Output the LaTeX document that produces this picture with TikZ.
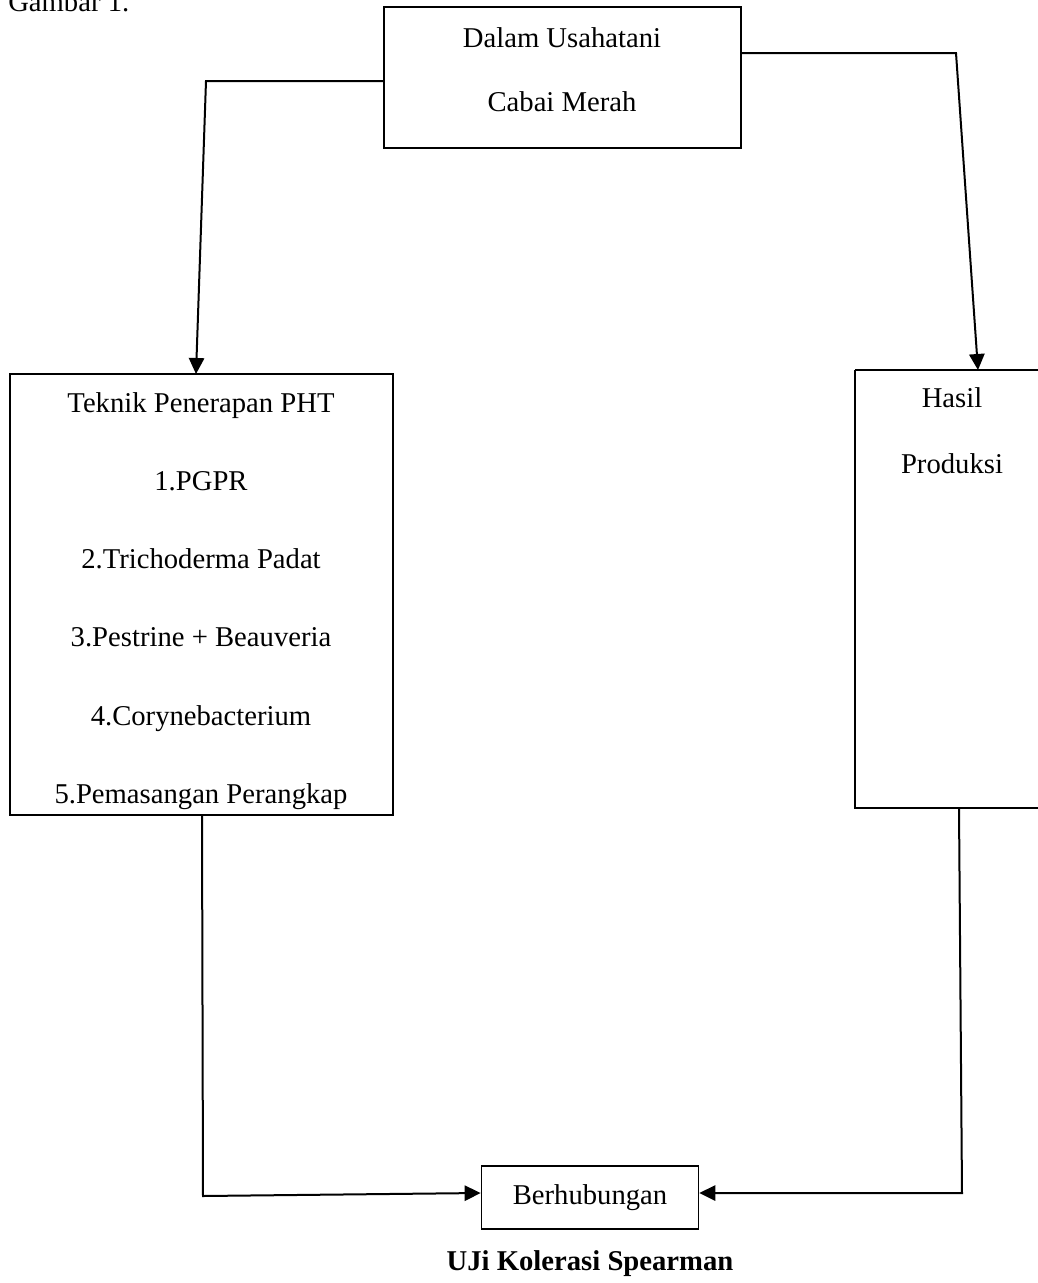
\documentclass[tikz,border=0pt]{standalone}
\usepackage{fontspec}
\setmainfont{Liberation Serif}
\usetikzlibrary{arrows.meta}
\begin{document}
\begin{tikzpicture}[x=0.75pt,y=-0.75pt,
  txt/.style={font=\fontsize{21.5}{25}\selectfont, inner sep=0pt, anchor=base},
  boxline/.style={draw=black, line width=1.5pt},
  conn/.style={draw=black, line width=1.5pt},
  arr/.style={conn, -{Triangle[length=12pt,width=11.5pt]}}]
\useasboundingbox (0,0) rectangle (1038,1283);
% boxes
\draw[boxline] (384,7) rectangle (741,148);
\node[txt] (t1) at (562,47) {Dalam Usahatani};
\node[txt] (t2) at (562,111) {Cabai Merah};
\coordinate (topL) at (384,81);
\coordinate (topR) at (741,53);

\draw[boxline] (10,374) rectangle (393,815);
\node[txt] (l1) at (201,412) {Teknik Penerapan PHT};
\node[txt] (l2) at (201,490) {1.PGPR};
\node[txt] (l3) at (201,568.5) {2.Trichoderma Padat};
\node[txt] (l4) at (201,646.5) {3.Pestrine + Beauveria};
\node[txt] (l5) at (201,725) {4.Corynebacterium};
\node[txt] (l6) at (201,803) {5.Pemasangan Perangkap};

\draw[boxline] (855,370) -- (1045,370) (855,370) -- (855,808) -- (1045,808);
\node[txt] (r1) at (952,407) {Hasil};
\node[txt] (r2) at (952,473) {Produksi};

\node[draw=black, line width=1.3pt, minimum width=217*0.75pt, minimum height=63*0.75pt, inner sep=0pt, font=\fontsize{21.5}{25}\selectfont] (ber) at (590,1197.5) {Berhubungan};

\node[txt, anchor=base west] (gam) at (8,11) {Gambar 1.};
\node[txt, font=\fontsize{21.5}{25}\selectfont\bfseries] (uji) at (590,1270) {UJi Kolerasi Spearman};

% connectors
\coordinate (a1) at (206,81);
\coordinate (a2) at (196,374);
\draw[arr] (topL) -- (a1) -- (a2);
\coordinate (b1) at (956,53);
\coordinate (b2) at (978,370);
\draw[arr] (topR) -- (b1) -- (b2);
\coordinate (c0) at (202,815);
\coordinate (c1) at (203,1196);
\draw[arr] (c0) -- (c1) -- (ber.west |- 0,1193);
\coordinate (d0) at (959,808);
\coordinate (d1) at (962,1193);
\draw[arr] (d0) -- (d1) -- (ber.east |- 0,1193);
\end{tikzpicture}
\end{document}
